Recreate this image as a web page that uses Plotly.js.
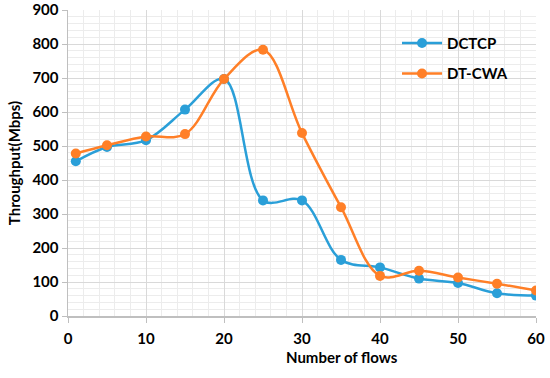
<!DOCTYPE html>
<html><head><meta charset="utf-8">
<script src="https://cdn.plot.ly/plotly-3.0.1.min.js"></script>
<style>html,body{margin:0;padding:0;background:#fff}#chart{width:550px;height:378px}</style>
</head><body><div id="chart"></div>
<script>
const flows = [1, 5, 10, 15, 20, 25, 30, 35, 40, 45, 50, 55, 60];
const dctcp = [455, 497, 517, 607, 697, 340, 340, 165, 143, 110, 97, 67, 60];
const dtcwa = [478, 502, 528, 535, 697, 783, 538, 320, 118, 133, 113, 95, 75];
const seriesNames = ['DCTCP', 'DT-CWA'];
const xTicks = [0, 10, 20, 30, 40, 50, 60];
const yTicks = [0, 100, 200, 300, 400, 500, 600, 700, 800, 900];

const fam = 'Lato, "Open Sans", sans-serif';
const bold = {family: fam, size: 15, color: '#000', weight: 'bold'};
function tr(y, name, color, grp) {
  return {x: flows, y: y, name: name, type: 'scatter', mode: 'lines+markers', legendgroup: grp,
    line: {color: color, width: 2.5, shape: 'spline', smoothing: 1},
    marker: {color: color, size: 10}};
}
const data = [tr(dctcp, seriesNames[0], '#2a9fd8', 'a'), tr(dtcwa, seriesNames[1], '#ff7f27', 'b')];
const layout = {
  width: 550, height: 378,
  margin: {l: 68, r: 14, t: 10, b: 62},
  paper_bgcolor: '#fff', plot_bgcolor: '#fff',
  font: {family: fam, size: 14, color: '#000'},
  showlegend: true,
  legend: {x: 0.703, y: 0.945, xanchor: 'left', yanchor: 'top', bgcolor: 'rgba(0,0,0,0)',
    traceorder: 'grouped', tracegroupgap: 8,
    font: bold, itemwidth: 40},
  xaxis: {range: [0, 60], tickvals: xTicks, ticktext: xTicks.map(String),
    tickfont: bold, ticklabelstandoff: 3,
    showgrid: true, gridcolor: '#d9d9d9', gridwidth: 1,
    minor: {dtick: 2, showgrid: true, gridcolor: '#ececec', gridwidth: 1},
    showline: true, linecolor: '#bfbfbf', linewidth: 1.5,
    ticks: 'outside', ticklen: 5, tickcolor: '#bfbfbf', zeroline: false, fixedrange: true},
  yaxis: {range: [0, 900], tickvals: yTicks, ticktext: yTicks.map(String),
    tickfont: bold,
    showgrid: true, gridcolor: '#d9d9d9', gridwidth: 1,
    minor: {dtick: 20, showgrid: true, gridcolor: '#ececec', gridwidth: 1},
    showline: true, linecolor: '#bfbfbf', linewidth: 1.5,
    ticks: 'outside', ticklen: 5, tickcolor: '#bfbfbf', zeroline: false,
    title: {text: 'Throughput(Mbps)', font: bold, standoff: 8},
    fixedrange: true},
  annotations: [{text: 'Number of flows', xref: 'paper', yref: 'paper', x: 0.585, y: -0.134,
    xanchor: 'center', yanchor: 'middle', showarrow: false, font: bold}]
};
Plotly.newPlot('chart', data, layout, {staticPlot: true});
</script></body></html>
